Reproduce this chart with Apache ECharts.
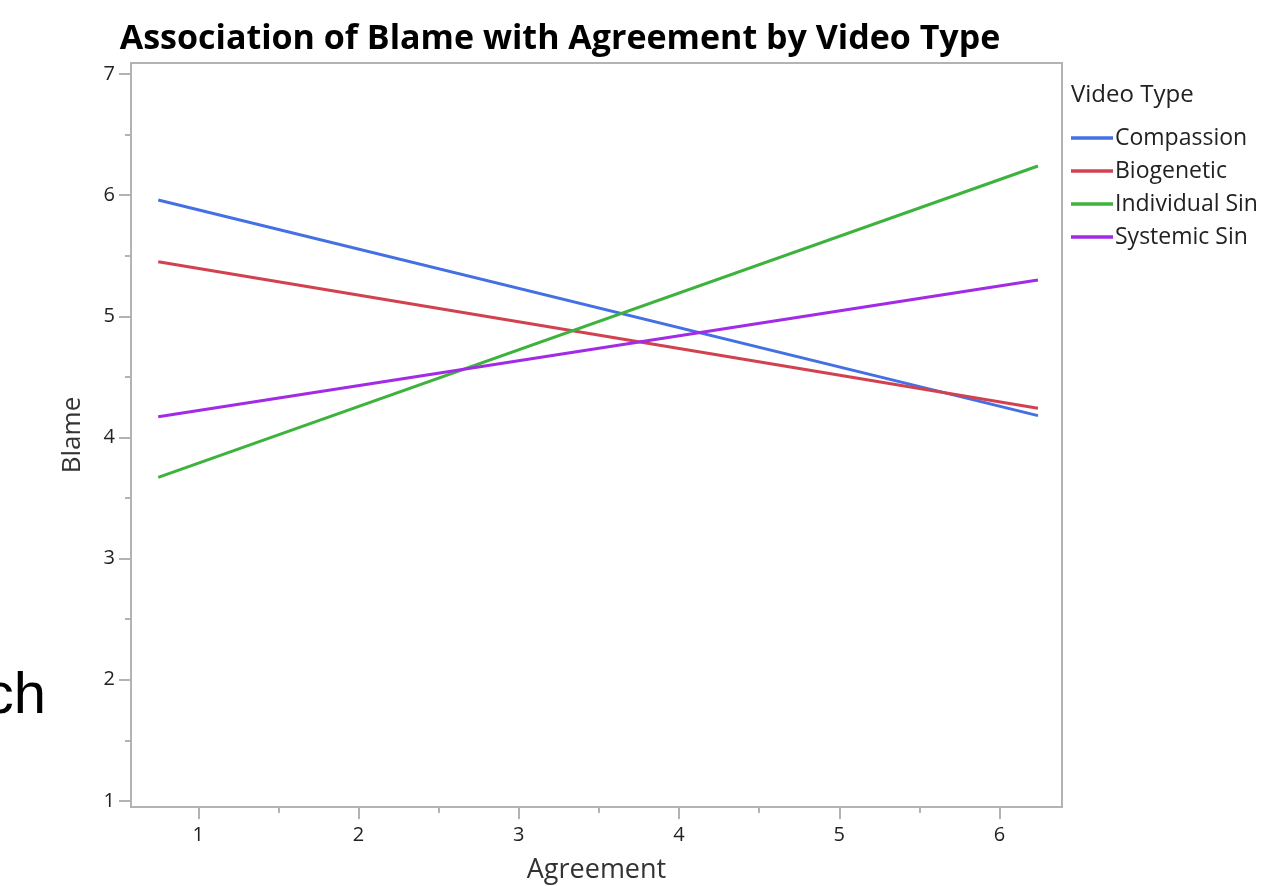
<!DOCTYPE html>
<html>
<head>
<meta charset="utf-8">
<script src="https://cdn.jsdelivr.net/npm/echarts@6/dist/echarts.min.js"></script>
<style>
html,body{margin:0;padding:0;background:#fff;}
#chart{width:1263px;height:886px;}
</style>
</head>
<body>
<div id="chart"></div>
<script>
// Data
const agreement = [0.75, 6.24];
const seriesNames = ['Compassion', 'Biogenetic', 'Individual Sin', 'Systemic Sin'];
const compassion = [5.96, 4.18];
const biogenetic = [5.45, 4.24];
const individualSin = [3.67, 6.24];
const systemicSin = [4.17, 5.30];
const xTicks = [1, 2, 3, 4, 5, 6];
const xMinorTicks = [1.5, 2.5, 3.5, 4.5, 5.5];
const yTicks = [1, 2, 3, 4, 5, 6, 7];
const yMinorTicks = [1.5, 2.5, 3.5, 4.5, 5.5, 6.5];
const colors = ['#4470E4', '#D2414F', '#3DB23D', '#A12BE6'];

const values = [compassion, biogenetic, individualSin, systemicSin];
const FONT = '"Open Sans", "Noto Sans", sans-serif';
const axisGray = '#b3b3b3';

const chart = echarts.init(document.getElementById('chart'));
const option = {
  animation: false,
  backgroundColor: '#fff',
  color: colors,
  title: {
    text: 'Association of Blame with Agreement by Video Type',
    left: 555, top: 17, textAlign: 'center',
    textStyle: {fontFamily: FONT, fontWeight: 'bold', fontSize: 34, color: '#000'}
  },
  graphic: [
    {type: 'text', left: 1071, top: 83, style: {text: 'Video Type', font: '24px ' + FONT, fill: '#222'}},
    {type: 'text', right: 1217, top: 668, style: {text: 'ch', font: '58px "Liberation Sans", Arial, sans-serif', fill: '#000'}}
  ],
  legend: {
    orient: 'vertical', left: 1066, top: 120,
    itemWidth: 42, itemHeight: 14, itemGap: 7,
    icon: 'path://M0,6 L38,6 L38,9 L0,9 Z',
    textStyle: {fontFamily: FONT, fontSize: 23, color: '#222', lineHeight: 26, padding: [0,0,0,-3]},
    data: seriesNames
  },
  grid: {
    left: 131, right: 201, top: 63, bottom: 79,
    show: true, borderColor: axisGray, borderWidth: 2,
    containLabel: false, outerBoundsMode: 'none'
  },
  xAxis: [
    {
      type: 'value', min: 0.58, max: 6.39, position: 'bottom',
      name: 'Agreement', nameLocation: 'middle', nameGap: 50,
      nameTextStyle: {fontFamily: FONT, fontSize: 27, color: '#333'},
      axisLine: {show: true, lineStyle: {color: axisGray, width: 2}},
      axisTick: {show: true, customValues: xTicks, length: 12, lineStyle: {color: axisGray, width: 2}},
      axisLabel: {customValues: xTicks, margin: 18, fontFamily: FONT, fontSize: 20, color: '#222'},
      splitLine: {show: false}
    },
    {
      type: 'value', min: 0.58, max: 6.39, position: 'bottom', offset: 0,
      axisLine: {show: false},
      axisTick: {show: true, customValues: xMinorTicks, length: 6, lineStyle: {color: axisGray, width: 2}},
      axisLabel: {show: false},
      splitLine: {show: false}
    }
  ],
  yAxis: [
    {
      type: 'value', min: 0.95, max: 7.09, position: 'left',
      name: 'Blame', nameLocation: 'middle', nameGap: 45,
      nameTextStyle: {fontFamily: FONT, fontSize: 26, color: '#333'},
      axisLine: {show: true, lineStyle: {color: axisGray, width: 2}},
      axisTick: {show: true, customValues: yTicks, length: 12, lineStyle: {color: axisGray, width: 2}},
      axisLabel: {customValues: yTicks, margin: 16, fontFamily: FONT, fontSize: 20, color: '#222'},
      splitLine: {show: false}
    },
    {
      type: 'value', min: 0.95, max: 7.09, position: 'left', offset: 0,
      axisLine: {show: false},
      axisTick: {show: true, customValues: yMinorTicks, length: 6, lineStyle: {color: axisGray, width: 2}},
      axisLabel: {show: false},
      splitLine: {show: false}
    }
  ],
  series: seriesNames.map((name, i) => ({
    name: name,
    type: 'line',
    xAxisIndex: 0, yAxisIndex: 0,
    symbol: 'none',
    lineStyle: {width: 3, color: colors[i]},
    itemStyle: {color: colors[i]},
    data: agreement.map((x, j) => [x, values[i][j]])
  }))
};
chart.setOption(option);
</script>
</body>
</html>
